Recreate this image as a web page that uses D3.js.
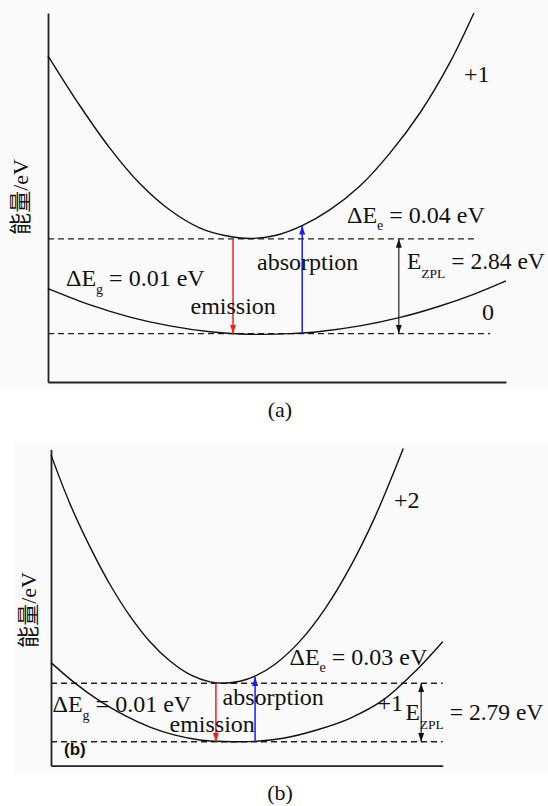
<!DOCTYPE html>
<html>
<head>
<meta charset="utf-8">
<script src="https://cdn.jsdelivr.net/npm/d3@7"></script>
<style>
  html, body { margin: 0; padding: 0; background: #ffffff; }
  svg { display: block; }
  text { font-family: "Liberation Serif", "Times New Roman", serif; fill: #111; white-space: pre; }
</style>
</head>
<body>
<svg id="chart" width="548" height="806"></svg>
<script>
// ---------------- DATA (configuration coordinate Q vs energy, arbitrary units 0-100) ----------------
const panelCaptions = ["(a)", "(b)"];
const yAxisLabel = "能量/eV";

// Panel (a): charge states +1 (excited) and 0 (ground)
const stateLabelsA = ["+1", "0"];
const excitedA_Q = [0, 7.0, 13.5, 20.1, 26.6, 33.2, 38.6, 44.1, 49.6, 55.5, 61.6, 68.1, 74.7, 81.2, 87.8, 93.0];
const excitedA_E = [88.4, 74.8, 63.4, 53.7, 46.6, 41.7, 39.7, 38.9, 39.7, 42.4, 46.7, 53.1, 62.1, 72.9, 86.7, 100];
const groundA_Q  = [0, 9.2, 17.9, 26.6, 35.4, 41.9, 46.7, 52.8, 59.4, 68.1, 76.9, 85.6, 93.2, 100];
const groundA_E  = [25.3, 20.9, 17.6, 15.2, 13.6, 13.0, 12.9, 13.1, 13.7, 15.2, 17.5, 20.6, 23.9, 27.4];
const levelsA    = [38.8, 13.1];          // excited-state minimum, ground-state minimum
const levelEndA  = [93.9, 96.5];          // extent of dashed level lines
const arrowsA_Q  = [40.4, 55.5, 76.6];    // emission, absorption, ZPL
const absTopA    = 42.4;
const valuesA    = ["0.04", "0.01", "2.84"]; // ΔEe, ΔEg, EZPL (eV)

// Panel (b): charge states +2 (excited) and +1 (ground)
const stateLabelsB = ["+2", "+1"];
const excitedB_Q = [0, 4.85, 9.96, 15.06, 20.17, 25.27, 30.38, 35.49, 40.59, 44.17, 48.25, 52.08, 57.19, 63.57, 69.95, 76.33, 82.72, 89.94];
const excitedB_E = [98.3, 82.8, 69.2, 57.3, 47.3, 39.2, 33.1, 28.8, 26.5, 26.1, 26.7, 28.3, 32.1, 39.4, 49.6, 62.7, 78.7, 100.3];
const groundB_Q  = [0, 6.13, 12.51, 18.89, 25.27, 31.66, 38.04, 44.17, 52.51, 59.30, 67.83, 76.33, 84.84, 93.36, 100];
const groundB_E  = [32.6, 26.1, 20.4, 15.8, 12.2, 9.65, 8.13, 7.65, 7.72, 8.67, 11.3, 15.0, 20.8, 30.3, 39.2];
const levelsB    = [26.06, 7.59];
const levelEndB  = [100, 100];
const arrowsB_Q  = [42.1, 52.1, 94.5];
const absTopB    = 28.05;
const valuesB    = ["0.03", "0.01", "2.79"];

const transitionLabels = ["emission", "absorption"];

// ---------------- DRAWING ----------------
const svg = d3.select("#chart");

// faint panel backgrounds
svg.append("rect").attr("x", 0).attr("y", 0).attr("width", 548).attr("height", 388).attr("fill", "#fafafa");
svg.append("rect").attr("x", 14).attr("y", 443).attr("width", 534).attr("height", 330).attr("fill", "#fafafa");

const defs = svg.append("defs");
function marker(id, color) {
  defs.append("marker")
    .attr("id", id).attr("markerUnits", "userSpaceOnUse")
    .attr("viewBox", "0 -3 9 6").attr("refX", 9).attr("refY", 0)
    .attr("markerWidth", 9).attr("markerHeight", 6).attr("orient", "auto-start-reverse")
    .append("path").attr("d", "M0,-3L9,0L0,3Z").attr("fill", color);
}
marker("mRed", "#ff1a1a");
marker("mBlue", "#1a1aff");
marker("mBlack", "#111");

function subText(g, x, y, parts, size) {
  // parts: [text, sub, rest, subSize, subShift]
  const t = g.append("text").attr("x", x).attr("y", y).attr("font-size", size);
  t.append("tspan").text(parts[0]);
  t.append("tspan").attr("font-size", parts[3]).attr("dy", parts[4]).text(parts[1]);
  t.append("tspan").attr("dy", -parts[4]).text(parts[2]);
  return t;
}

function drawPanel(cfg) {
  const g = svg.append("g");
  const x = d3.scaleLinear([0, 100], cfg.xRange);
  const y = d3.scaleLinear([0, 100], cfg.yRange);

  // axes (domain lines only)
  g.append("g").attr("transform", `translate(0,${cfg.yRange[0]})`)
    .call(d3.axisBottom(x).ticks(0).tickSizeOuter(0));
  g.append("g").attr("transform", `translate(${cfg.xRange[0]},0)`)
    .call(d3.axisLeft(y).ticks(0).tickSizeOuter(0));
  g.selectAll(".domain").attr("stroke", "#222").attr("stroke-width", 1.8);

  // dashed levels
  cfg.levels.forEach((lv, i) => {
    g.append("line")
      .attr("x1", x(0)).attr("x2", x(cfg.levelEnd[i]))
      .attr("y1", y(lv)).attr("y2", y(lv))
      .attr("stroke", "#222").attr("stroke-width", 1.4).attr("stroke-dasharray", "6,4");
  });

  // curves
  const line = d3.line().x(d => x(d[0])).y(d => y(d[1])).curve(d3.curveCatmullRom.alpha(0.5));
  [[cfg.exQ, cfg.exE], [cfg.grQ, cfg.grE]].forEach(([qs, es]) => {
    g.append("path").datum(qs.map((q, i) => [q, es[i]]))
      .attr("d", line).attr("fill", "none").attr("stroke", "#111").attr("stroke-width", 1.4);
  });

  // arrows
  g.append("line").attr("x1", x(cfg.arrQ[0])).attr("x2", x(cfg.arrQ[0]))
    .attr("y1", y(cfg.levels[0])).attr("y2", y(cfg.levels[1]))
    .attr("stroke", "#ff1a1a").attr("stroke-width", 1.5).attr("marker-end", "url(#mRed)");
  g.append("line").attr("x1", x(cfg.arrQ[1])).attr("x2", x(cfg.arrQ[1]))
    .attr("y1", y(cfg.levels[1])).attr("y2", y(cfg.absTop))
    .attr("stroke", "#1a1aff").attr("stroke-width", 1.5).attr("marker-end", "url(#mBlue)");
  g.append("line").attr("x1", x(cfg.arrQ[2])).attr("x2", x(cfg.arrQ[2]))
    .attr("y1", y(cfg.levels[0])).attr("y2", y(cfg.levels[1]))
    .attr("stroke", "#111").attr("stroke-width", 1.1)
    .attr("marker-start", "url(#mBlack)").attr("marker-end", "url(#mBlack)");

  // labels
  const L = cfg.lab;
  g.append("text").attr("x", L.st0[0]).attr("y", L.st0[1]).attr("font-size", 24).text(cfg.states[0]);
  g.append("text").attr("x", L.st1[0]).attr("y", L.st1[1]).attr("font-size", 24).text(cfg.states[1]);
  subText(g, L.de[0], L.de[1], ["ΔE", "e", " = " + cfg.vals[0] + " eV", 14, 7], 24);
  subText(g, L.dg[0], L.dg[1], ["ΔE", "g", " = " + cfg.vals[1] + " eV", 14, 8], 24);
  subText(g, L.zpl[0], L.zpl[1], ["E", "ZPL", " = " + cfg.vals[2] + " eV", 13.5, 9], 23.5);
  g.append("text").attr("x", L.abs[0]).attr("y", L.abs[1]).attr("font-size", 24).text(transitionLabels[1]);
  g.append("text").attr("x", L.em[0]).attr("y", L.em[1]).attr("font-size", 24).text(transitionLabels[0]);

  // y label
  g.append("text").attr("transform", `translate(${L.ylab[0]},${L.ylab[1]}) rotate(-90)`)
    .attr("text-anchor", "middle").attr("font-size", 22)
    .style("font-family", "'Liberation Serif', 'Noto Sans CJK SC', serif")
    .text(yAxisLabel);

  // caption
  g.append("text").attr("x", L.cap[0]).attr("y", L.cap[1]).attr("text-anchor", "middle")
    .attr("font-size", 22).text(cfg.caption);
  return g;
}

drawPanel({
  xRange: [48, 506], yRange: [382, 13],
  exQ: excitedA_Q, exE: excitedA_E, grQ: groundA_Q, grE: groundA_E,
  levels: levelsA, levelEnd: levelEndA, arrQ: arrowsA_Q, absTop: absTopA,
  states: stateLabelsA, vals: valuesA, caption: panelCaptions[0],
  lab: {
    st0: [464, 82], st1: [482, 320], de: [347, 223], dg: [66, 286], zpl: [407, 268.5],
    abs: [257, 270], em: [190.5, 313.5], ylab: [28, 197], cap: [280, 417]
  }
});

const gB = drawPanel({
  xRange: [51, 442.7], yRange: [765.7, 449.5],
  exQ: excitedB_Q, exE: excitedB_E, grQ: groundB_Q, grE: groundB_E,
  levels: levelsB, levelEnd: levelEndB, arrQ: arrowsB_Q, absTop: absTopB,
  states: stateLabelsB, vals: valuesB, caption: panelCaptions[1],
  lab: {
    st0: [394, 508], st1: [377.5, 711], de: [289.5, 664.5], dg: [52.5, 711.5], zpl: [405.5, 720],
    abs: [222.5, 704.5], em: [169.5, 731.5], ylab: [36, 610], cap: [280, 800]
  }
});

// inner bold panel tag
gB.append("text").attr("x", 64).attr("y", 755).attr("font-size", 17)
  .style("font-family", "'Liberation Sans', Arial, sans-serif").attr("font-weight", "bold")
  .text(panelCaptions[1]);
</script>
</body>
</html>
